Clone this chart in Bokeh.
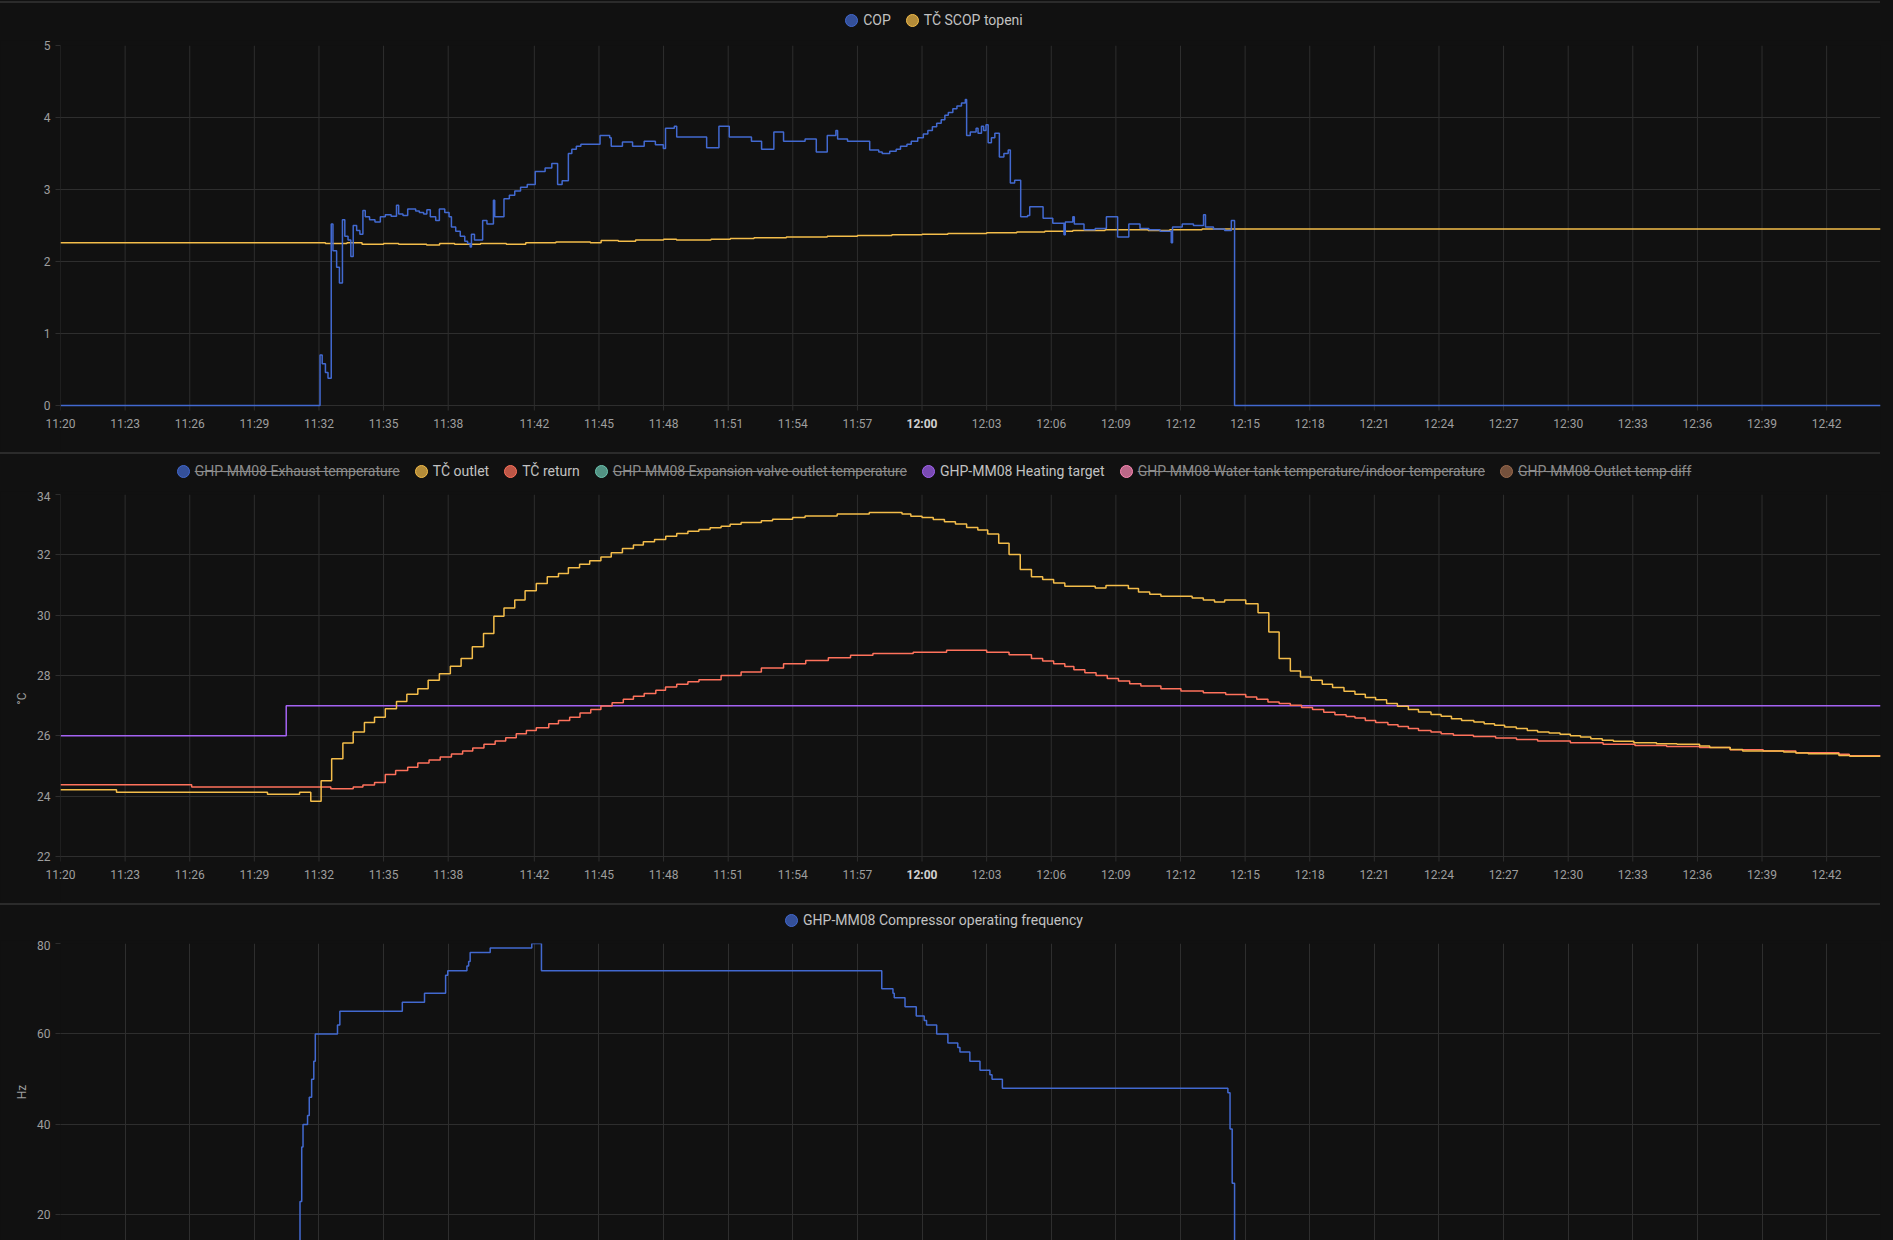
from bokeh.plotting import figure
from bokeh.layouts import column
from bokeh.models import Range1d, FixedTicker, Div
from bokeh.core.properties import value
from bokeh.embed import file_html
from bokeh.resources import INLINE

# ---------------- data (time = minutes after 11:20) ----------------
tick_labels = ["11:20", "11:23", "11:26", "11:29", "11:32", "11:35", "11:38",
               "11:42", "11:45", "11:48", "11:51", "11:54", "11:57", "12:00",
               "12:03", "12:06", "12:09", "12:12", "12:15", "12:18", "12:21",
               "12:24", "12:27", "12:30", "12:33", "12:36", "12:39", "12:42"]
bold_label = "12:00"
x_end_min = 84.5

cop_t = [0, 12.05, 12.15, 12.3, 12.42, 12.57, 12.65, 12.82, 12.95, 13.09, 13.2, 13.35,
         13.48, 13.59, 13.75, 13.9, 14.04, 14.15, 14.35, 14.6, 14.85, 15.08, 15.35,
         15.6, 15.7, 15.9, 16.12, 16.49, 16.66, 16.86, 17.01, 17.17, 17.42, 17.59,
         17.84, 18.04, 18.15, 18.35, 18.56, 18.77, 18.9, 19.02, 19.08, 19.22, 19.6,
         19.8, 20.1, 20.16, 20.59, 20.84, 21.09, 21.36, 21.67, 22.04, 22.5, 22.81,
         23.08, 23.29, 23.58, 23.74, 23.95, 24.16, 25.05, 25.5, 25.57, 26.09, 26.56,
         27.1, 27.62, 27.99, 28.09, 28.5, 28.61, 30.0, 30.57, 31.05, 32.08, 32.55,
         33.12, 33.57, 34.57, 35.09, 35.6, 36.0, 36.08, 36.54, 37.57, 37.99, 38.15,
         38.5, 38.8, 39.0, 39.3, 39.5, 39.8, 40.06, 40.27, 40.48, 40.68, 40.89, 41.06,
         41.22, 41.43, 41.62, 41.83, 42.01, 42.07, 42.24, 42.51, 42.6, 42.76, 42.86,
         42.97, 43.07, 43.22, 43.38, 43.59, 43.8, 44.0, 44.1, 44.3, 44.58, 44.9, 45.0,
         45.62, 46.07, 46.59, 46.65, 47.0, 47.07, 47.52, 48.04, 48.56, 49.08, 49.6,
         50.12, 50.53, 51.05, 51.57, 51.63, 52.08, 52.6, 53.07, 53.16, 53.53, 54.05,
         54.36, 54.51, 84.5]
cop_v = [0, 0.70, 0.58, 0.46, 0.38, 2.52, 2.15, 1.92, 1.70, 2.58, 2.35, 2.30,
         2.07, 2.50, 2.43, 2.38, 2.71, 2.62, 2.58, 2.55, 2.62, 2.65, 2.63,
         2.78, 2.66, 2.64, 2.73, 2.70, 2.68, 2.66, 2.72, 2.62, 2.57, 2.73,
         2.68, 2.62, 2.48, 2.42, 2.35, 2.28, 2.25, 2.20, 2.38, 2.30, 2.57,
         2.52, 2.85, 2.62, 2.87, 2.92, 2.98, 3.03, 3.07, 3.25, 3.30, 3.36,
         3.07, 3.12, 3.50, 3.56, 3.60, 3.63, 3.75, 3.72, 3.60, 3.66, 3.60,
         3.67, 3.62, 3.57, 3.85, 3.88, 3.73, 3.58, 3.88, 3.73, 3.67, 3.56,
         3.80, 3.67, 3.70, 3.52, 3.75, 3.82, 3.70, 3.67, 3.55, 3.52, 3.50,
         3.53, 3.56, 3.60, 3.63, 3.67, 3.72, 3.77, 3.82, 3.87, 3.92, 3.97, 4.03,
         4.07, 4.12, 4.16, 4.20, 4.25, 3.75, 3.80, 3.85, 3.78, 3.88, 3.82,
         3.90, 3.65, 3.72, 3.78, 3.45, 3.50, 3.55, 3.09, 3.13, 2.62, 2.64, 2.76,
         2.60, 2.53, 2.37, 2.55, 2.62, 2.52, 2.44, 2.46, 2.62, 2.34, 2.52,
         2.46, 2.44, 2.42, 2.26, 2.48, 2.52, 2.50, 2.65, 2.48, 2.45, 2.43,
         2.57, 0, 0]

scop_t = [0, 12.3, 13.3, 14.0, 15.0, 15.7, 17.0, 17.6, 18.3, 19.5, 20.7, 21.6, 23.0,
          24.6, 25.1, 25.9, 26.7, 28.0, 28.6, 30.2, 31.1, 32.2, 33.7, 35.6, 37.0,
          38.6, 40.0, 41.2, 43.0, 44.4, 45.7, 47.0, 48.5, 50.5, 51.5, 53.0, 84.5]
scop_v = [2.26, 2.25, 2.26, 2.24, 2.25, 2.24, 2.23, 2.25, 2.24, 2.25, 2.24, 2.26, 2.27,
          2.26, 2.29, 2.28, 2.30, 2.31, 2.30, 2.31, 2.32, 2.33, 2.34, 2.35, 2.36,
          2.37, 2.38, 2.39, 2.40, 2.41, 2.42, 2.43, 2.44, 2.43, 2.44, 2.45, 2.45]

outlet_t = [0, 2.6, 9.61, 11.1, 11.62, 12.1, 12.59, 13.11, 13.59, 14.11, 14.58, 15.08,
            15.6, 16.08, 16.59, 17.07, 17.59, 18.1, 18.6, 19.12, 19.64, 20.12, 20.59,
            21.09, 21.57, 22.09, 22.6, 23.12, 23.58, 24.1, 24.57, 25.09, 25.57, 26.09,
            26.6, 27.06, 27.58, 28.1, 28.61, 29.13, 29.64, 30.16, 30.67, 31.09, 31.6,
            32.54, 33.06, 33.99, 34.57, 36.06, 37.55, 39.07, 39.48, 40.0, 40.52, 41.04,
            41.55, 42.07, 42.59, 43.05, 43.56, 44.04, 44.56, 45.08, 45.6, 46.11, 46.63,
            48.04, 48.54, 49.58, 50.05, 50.57, 51.09, 52.54, 53.06, 53.58, 54.05, 55.03,
            55.6, 56.1, 56.58, 57.1, 57.57, 58.07, 58.58, 59.06, 59.59, 60.1, 60.58,
            61.06, 61.57, 62.07, 62.58, 63.05, 63.63, 64.1, 64.58, 65.05, 65.62, 66.1,
            66.58, 67.05, 67.59, 68.1, 68.58, 69.11, 69.62, 70.1, 70.57, 71.05, 71.58,
            72.1, 73.05, 74.1, 75.05, 76.1, 76.57, 77.52, 78.1, 80.0, 80.57, 81.14,
            82.57, 83.08, 84.5]
outlet_v = [24.21, 24.13, 24.06, 24.13, 23.83, 24.51, 25.24, 25.76, 26.13, 26.44, 26.62, 26.90,
            27.14, 27.38, 27.56, 27.84, 28.06, 28.31, 28.56, 28.95, 29.39, 29.96, 30.24,
            30.50, 30.81, 31.05, 31.27, 31.38, 31.57, 31.69, 31.80, 31.93, 32.07, 32.21,
            32.33, 32.43, 32.51, 32.62, 32.71, 32.78, 32.84, 32.90, 32.95, 33.01, 33.07,
            33.13, 33.18, 33.24, 33.29, 33.35, 33.40, 33.35, 33.28, 33.24, 33.17, 33.10,
            33.02, 32.91, 32.82, 32.69, 32.38, 32.01, 31.51, 31.27, 31.18, 31.07, 30.96,
            30.90, 30.98, 30.88, 30.77, 30.69, 30.63, 30.57, 30.50, 30.44, 30.50, 30.38,
            30.08, 29.44, 28.56, 28.15, 27.95, 27.84, 27.71, 27.60, 27.48, 27.38, 27.27,
            27.20, 27.07, 26.98, 26.87, 26.79, 26.71, 26.65, 26.57, 26.51, 26.46, 26.40,
            26.35, 26.29, 26.24, 26.18, 26.13, 26.09, 26.05, 26.00, 25.96, 25.90, 25.85,
            25.82, 25.77, 25.74, 25.72, 25.66, 25.61, 25.55, 25.50, 25.46, 25.43, 25.41,
            25.35, 25.32, 25.32]

return_t = [0, 6.09, 12.55, 13.59, 14.04, 14.58, 15.08, 15.56, 16.12, 16.59, 17.11, 17.63,
            18.15, 18.67, 19.14, 19.66, 20.18, 20.67, 21.16, 21.63, 22.09, 22.67, 23.12,
            23.64, 24.12, 24.62, 25.09, 25.61, 26.13, 26.6, 27.1, 27.64, 28.09, 28.61,
            29.13, 29.64, 30.67, 31.6, 32.54, 33.57, 34.6, 35.65, 36.68, 37.72, 39.59,
            41.14, 43.0, 44.04, 45.08, 45.6, 46.11, 46.63, 47.05, 47.56, 48.08, 48.6,
            49.12, 49.64, 50.16, 51.09, 52.02, 53.06, 54.1, 55.03, 55.54, 56.06, 56.58,
            57.1, 57.62, 58.13, 58.65, 59.17, 59.69, 60.1, 60.58, 61.06, 61.63, 62.1,
            62.58, 63.05, 63.63, 64.1, 64.67, 65.6, 66.63, 67.6, 68.58, 70.1, 71.62,
            73.1, 74.57, 76.1, 77.52, 79.05, 80.57, 82.57, 83.05, 84.5]
return_v = [24.38, 24.30, 24.25, 24.30, 24.37, 24.45, 24.72, 24.85, 24.96, 25.10, 25.20, 25.30,
            25.40, 25.50, 25.60, 25.72, 25.83, 25.94, 26.07, 26.18, 26.27, 26.40, 26.51,
            26.62, 26.76, 26.87, 26.99, 27.10, 27.21, 27.31, 27.40, 27.51, 27.62, 27.71,
            27.79, 27.86, 28.00, 28.12, 28.25, 28.39, 28.50, 28.59, 28.67, 28.73, 28.77,
            28.84, 28.77, 28.69, 28.56, 28.48, 28.39, 28.30, 28.19, 28.09, 28.00, 27.90,
            27.82, 27.73, 27.65, 27.56, 27.49, 27.43, 27.37, 27.29, 27.21, 27.12, 27.07,
            27.01, 26.94, 26.87, 26.78, 26.70, 26.64, 26.59, 26.51, 26.44, 26.37, 26.31,
            26.24, 26.18, 26.13, 26.07, 26.02, 25.98, 25.93, 25.88, 25.83, 25.77, 25.72,
            25.68, 25.65, 25.61, 25.54, 25.50, 25.44, 25.39, 25.34, 25.34]

target_t = [0, 10.48, 84.5]
target_v = [26, 27, 27]

freq_t = [0, 11.1, 11.12, 11.2, 11.26, 11.47, 11.55, 11.66, 11.76, 11.83, 12.86, 12.97,
          15.87, 16.9, 17.88, 17.98, 18.87, 18.95, 19.02, 19.95, 21.88, 22.33, 38.13,
          38.65, 38.71, 39.21, 39.73, 40.1, 40.21, 40.68, 41.2, 41.66, 41.76, 42.22,
          42.69, 43.15, 43.25, 43.73, 54.2, 54.3, 54.4, 54.51, 84.5]
freq_v = [0, 0, 23, 35, 40, 42, 46, 50, 54, 60, 62, 65,
          67, 69, 73, 74, 75, 76, 78, 79, 80, 74, 70,
          69, 68, 66, 64, 63, 62, 60, 58, 57, 56, 54,
          52, 51, 50, 48, 47, 39, 27, 0, 0]

# ---------------- style ----------------
BG = "#111111"
GRID = "#2e2e2e"
TICK = "#9e9e9e"
FONT = "Roboto"
W = 1893
LEFT, RIGHT = 60, 13
C_BLUE, C_GOLD, C_RED, C_TEAL = "#4269d0", "#f4bd4a", "#ff725c", "#6cc5b0"
C_PURPLE, C_PINK, C_BROWN = "#a463f2", "#ff8ab7", "#9c6b4e"


def tmin(s):
    h, m = s.split(":")
    return float(int(h) * 60 + int(m) - (11 * 60 + 20))


tick_pos = [tmin(s) for s in tick_labels]


def rgba(hexc, a):
    h = hexc.lstrip("#")
    return "rgba(%d,%d,%d,%.2f)" % (int(h[0:2], 16), int(h[2:4], 16), int(h[4:6], 16), a)


def legend_div(items, height, top_gap):
    parts = []
    for name, col, hidden in items:
        tc = "#8c8c8c" if hidden else "#c2c2c2"
        deco = "text-decoration:line-through;" if hidden else ""
        parts.append(
            '<span style="display:inline-flex;align-items:center;">'
            '<span style="display:inline-block;width:13px;height:13px;border-radius:50%%;'
            'background:%s;border:1.5px solid %s;margin-right:5px;"></span>'
            '<span style="color:%s;%s">%s</span></span>' % (rgba(col, 0.72), col, tc, deco, name))
    html = ('<div style="position:relative;width:%dpx;height:%dpx;background:%s;">'
            '<div style="position:absolute;left:0;top:1px;width:1880px;height:2px;background:#2b2b2b;"></div>'
            '<div style="position:absolute;left:0;top:%dpx;width:1868px;height:20px;display:flex;'
            'justify-content:center;align-items:center;gap:15px;font-family:Roboto,sans-serif;'
            'font-size:14px;white-space:nowrap;">%s</div></div>') % (W, height, BG, top_gap, "".join(parts))
    return Div(text=html, width=W, height=height, margin=0, styles={"background": BG})


def style_axis(ax):
    ax.axis_line_color = None
    ax.major_tick_line_color = GRID
    ax.major_tick_in = 0
    ax.minor_tick_line_color = None
    ax.major_label_text_font = FONT
    ax.major_label_text_font_size = "12px"
    ax.major_label_text_color = TICK


def make_fig(height, top, frame_px, y0, y1, yticks, ylabel=None, show_x=True):
    # frame_px: pixel height of the value span y0..y1; with show_x the frame reaches
    # down to the figure bottom so the bold 12:00 label can be drawn in it
    bottom_px = height - top - frame_px
    per_px = (y1 - y0) / frame_px
    ybot = y0 - bottom_px * per_px if show_x else y0
    p = figure(width=W, height=height, output_backend="svg", toolbar_location=None,
               x_range=Range1d(0, x_end_min), y_range=Range1d(ybot, y1),
               min_border_left=LEFT, min_border_right=RIGHT,
               min_border_top=top, min_border_bottom=0,
               background_fill_color=BG, border_fill_color=BG, outline_line_color=None)
    ya = p.yaxis[0]
    style_axis(ya)
    ya.ticker = FixedTicker(ticks=yticks)
    ya.major_tick_out = 5
    ya.major_label_standoff = 5
    if ylabel:
        ya.axis_label = ylabel
        ya.axis_label_text_font = FONT
        ya.axis_label_text_font_size = "12px"
        ya.axis_label_text_font_style = "normal"
        ya.axis_label_text_color = TICK
        ya.axis_label_standoff = 5
    p.ygrid.grid_line_color = GRID
    p.ygrid.ticker = FixedTicker(ticks=yticks)
    xa = p.xaxis[0]
    if show_x:
        p.xgrid.visible = False
        n = len(tick_pos)
        p.segment(x0=tick_pos, x1=tick_pos, y0=[y0 - 5 * per_px] * n, y1=[y1] * n,
                  line_color=GRID, line_width=1)
        style_axis(xa)
        norm = [(t, s) for t, s in zip(tick_pos, tick_labels) if s != bold_label]
        xa.ticker = FixedTicker(ticks=[t for t, _ in norm])
        xa.major_label_overrides = {t: s for t, s in norm}
        xa.major_tick_out = 0
        xa.major_label_standoff = -(bottom_px - 11)
        bold = [(t, s) for t, s in zip(tick_pos, tick_labels) if s == bold_label]
        p.text(x=[t for t, _ in bold], y=[y0 - 18.0 * per_px] * len(bold),
               text=[s for _, s in bold], text_font=value(FONT), text_font_size=value("12px"),
               text_font_style="bold", text_color="#d0d0d0",
               text_align="center", text_baseline="middle")
    else:
        xa.visible = False
        p.xgrid.ticker = FixedTicker(ticks=tick_pos)
        p.xgrid.grid_line_color = GRID
    return p


# ---------------- chart 1: COP ----------------
leg1 = legend_div([("COP", C_BLUE, False), ("TČ SCOP topeni", C_GOLD, False)], 40, 10)
p1 = make_fig(411, 5, 360, 0, 5, [0, 1, 2, 3, 4, 5])
p1.step(scop_t, scop_v, mode="after", line_color=C_GOLD, line_width=1.5)
p1.step(cop_t, cop_v, mode="after", line_color=C_BLUE, line_width=1.5)

# ---------------- chart 2: temperatures ----------------
leg2 = legend_div([("GHP-MM08 Exhaust temperature", C_BLUE, True),
                   ("TČ outlet", C_GOLD, False),
                   ("TČ return", C_RED, False),
                   ("GHP-MM08 Expansion valve outlet temperature", C_TEAL, True),
                   ("GHP-MM08 Heating target", C_PURPLE, False),
                   ("GHP-MM08 Water tank temperature/indoor temperature", C_PINK, True),
                   ("GHP-MM08 Outlet temp diff", C_BROWN, True)], 40, 10)
p2 = make_fig(411, 3, 362, 22, 34, [22, 24, 26, 28, 30, 32, 34], ylabel="°C")
p2.step(target_t, target_v, mode="after", line_color=C_PURPLE, line_width=1.5)
p2.step(return_t, return_v, mode="after", line_color=C_RED, line_width=1.5)
p2.step(outlet_t, outlet_v, mode="after", line_color=C_GOLD, line_width=1.5)

# ---------------- chart 3: compressor frequency ----------------
leg3 = legend_div([("GHP-MM08 Compressor operating frequency", C_BLUE, False)], 38, 8)
p3 = make_fig(300, 3, 297, 14.36, 80, [20, 40, 60, 80], ylabel="Hz", show_x=False)
p3.step(freq_t, freq_v, mode="after", line_color=C_BLUE, line_width=1.5)

layout = column(leg1, p1, leg2, p2, leg3, p3, spacing=0,
                styles={"background": BG})

open("out.html", "w").write(file_html(layout, INLINE, title="chart"))
